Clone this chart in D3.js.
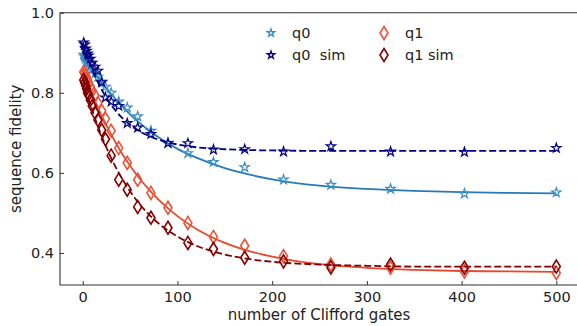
<!DOCTYPE html>
<html lang="en">
<head>
<meta charset="UTF-8">
<title>Sequence fidelity vs Clifford gates</title>
<script src="https://d3js.org/d3.v7.min.js"></script>
<style>
    body { margin: 0; background: #fff; }
    text { font-family: "DejaVu Sans", sans-serif; fill: #222; }
    .tick text { font-size: 14.5px; }
    .tick line { stroke: #333; stroke-width: 1; }
    .spine { stroke: #333; stroke-width: 1.1; fill: none; }
</style>
</head>
<body>
<div id="chart"></div>
<script>
    // number of Clifford gates (shared by all four data series)
    const gates = [1, 2, 3, 4, 5, 6, 8, 10, 13, 16, 20, 24, 30, 38, 47, 58, 72, 90, 111, 138, 171, 212, 262, 325, 403, 500];

    const q0 = [0.895, 0.890, 0.885, 0.880, 0.876, 0.873, 0.865, 0.858, 0.848, 0.840, 0.828, 0.815, 0.800, 0.778,
                0.763, 0.741, 0.705, 0.675, 0.649, 0.627, 0.614, 0.583, 0.570, 0.560, 0.548, 0.551];
    const q0Sim = [0.925, 0.920, 0.910, 0.905, 0.898, 0.893, 0.885, 0.875, 0.865, 0.855, 0.826, 0.788, 0.778, 0.767,
                0.724, 0.713, 0.697, 0.674, 0.674, 0.658, 0.659, 0.653, 0.666, 0.653, 0.652, 0.662];
    const q1 = [0.852, 0.848, 0.843, 0.838, 0.832, 0.826, 0.815, 0.805, 0.793, 0.775, 0.755, 0.735, 0.705, 0.662,
                0.625, 0.583, 0.550, 0.513, 0.475, 0.440, 0.418, 0.392, 0.371, 0.363, 0.354, 0.350];
    const q1Sim = [0.832, 0.825, 0.818, 0.810, 0.800, 0.795, 0.782, 0.767, 0.750, 0.732, 0.707, 0.684, 0.643, 0.583,
                0.558, 0.515, 0.488, 0.463, 0.425, 0.410, 0.388, 0.379, 0.364, 0.371, 0.363, 0.366];

    // fitted curves at these gate counts
    const fitGates = [0, 5, 10, 20, 30, 40, 50, 60, 70, 80, 100, 120, 150, 175, 200, 250, 300, 350, 400, 450, 500];
    const q0Fit = [0.898, 0.879, 0.860, 0.827, 0.797, 0.770, 0.746, 0.725, 0.706, 0.689, 0.660, 0.638, 0.612,
                0.596, 0.584, 0.568, 0.560, 0.555, 0.552, 0.550, 0.549];
    const q0SimFit = [0.925, 0.889, 0.858, 0.808, 0.770, 0.741, 0.720, 0.704, 0.692, 0.683, 0.671, 0.664, 0.659,
                0.657, 0.656, 0.655, 0.655, 0.655, 0.655, 0.655, 0.655];
    const q1Fit = [0.858, 0.826, 0.797, 0.743, 0.696, 0.654, 0.618, 0.586, 0.558, 0.533, 0.492, 0.460, 0.425,
                0.405, 0.391, 0.372, 0.363, 0.358, 0.355, 0.354, 0.353];
    const q1SimFit = [0.836, 0.795, 0.757, 0.692, 0.637, 0.592, 0.554, 0.522, 0.496, 0.474, 0.441, 0.418, 0.396,
                0.385, 0.378, 0.371, 0.368, 0.366, 0.366, 0.366, 0.366];

    const xTicks = [0, 100, 200, 300, 400, 500];
    const yTicks = [0.4, 0.6, 0.8, 1.0];

    const series = [
        { name: "q0",      y: q0,    fit: q0Fit,    marker: "star",    color: "#3a8dc5", line: "#2a7aba", dash: null },
        { name: "q0  sim", y: q0Sim, fit: q0SimFit, marker: "star",    color: "#000080", line: "#000080", dash: "7,3" },
        { name: "q1",      y: q1,    fit: q1Fit,    marker: "diamond", color: "#ec5236", line: "#e5492f", dash: null },
        { name: "q1 sim",  y: q1Sim, fit: q1SimFit, marker: "diamond", color: "#840000", line: "#840000", dash: "7,3" }
    ];

    const width = 577, height = 326;
    const margin = { top: 12.7, right: -3, bottom: 41, left: 60 };

    const svg = d3.select("#chart").append("svg")
        .attr("width", width)
        .attr("height", height);

    const x = d3.scaleLinear()
        .domain([-24, 525])
        .range([margin.left, width - margin.right]);

    const y = d3.scaleLinear()
        .domain([0.32, 1.0])
        .range([height - margin.bottom, margin.top]);

    // axes with inward ticks
    svg.append("g")
        .attr("transform", `translate(0,${height - margin.bottom})`)
        .call(d3.axisBottom(x).tickValues(xTicks).tickSize(-4).tickPadding(7))
        .call(g => g.select(".domain").remove());

    svg.append("g")
        .attr("transform", `translate(${margin.left},0)`)
        .call(d3.axisLeft(y).tickValues(yTicks).tickFormat(d3.format(".1f")).tickSize(-4).tickPadding(6))
        .call(g => g.select(".domain").remove());

    // spines: left, bottom, top
    const x0 = margin.left, x1 = width - margin.right, yb = height - margin.bottom, yt = margin.top;
    svg.append("path").attr("class", "spine")
        .attr("d", `M${x1},${yt}H${x0}V${yb}H${x1}`);

    // axis labels
    svg.append("text")
        .attr("x", 319).attr("y", 320)
        .attr("text-anchor", "middle")
        .style("font-size", "15px")
        .text("number of Clifford gates");

    svg.append("text")
        .attr("transform", `translate(21,${(yt + yb) / 2}) rotate(-90)`)
        .attr("text-anchor", "middle")
        .style("font-size", "15px")
        .text("sequence fidelity");

    const line = d3.line()
        .x(d => x(d[0]))
        .y(d => y(d[1]))
        .curve(d3.curveMonotoneX);

    const starPath = d3.symbol().type(d3.symbolStar).size(27)();
    const diamondPath = "M0,-6.5L4,0L0,6.5L-4,0Z";

    function drawMarkers(g, pts, s) {
        g.selectAll("path.m")
            .data(pts)
            .enter().append("path")
            .attr("class", "m")
            .attr("transform", d => `translate(${x(d[0])},${y(d[1])})`)
            .attr("d", s.marker === "star" ? starPath : diamondPath)
            .attr("fill", "none")
            .attr("stroke", s.color)
            .attr("stroke-width", s.marker === "star" ? 1.2 : 1.6)
            .attr("stroke-linejoin", "miter");
    }

    series.forEach(s => {
        const g = svg.append("g");
        g.append("path")
            .datum(fitGates.map((v, i) => [v, s.fit[i]]))
            .attr("d", line)
            .attr("fill", "none")
            .attr("stroke", s.line)
            .attr("stroke-width", 1.8)
            .attr("stroke-dasharray", s.dash);
        drawMarkers(g, gates.map((v, i) => [v, s.y[i]]), s);
    });

    // legend, two columns, no frame
    const legendPos = [[271, 33], [271, 55], [384, 33], [384, 55]];
    series.forEach((s, i) => {
        const [lx, ly] = legendPos[i];
        svg.append("path")
            .attr("transform", `translate(${lx},${ly})`)
            .attr("d", s.marker === "star" ? d3.symbol().type(d3.symbolStar).size(18)() : diamondPath)
            .attr("fill", "none")
            .attr("stroke", s.color)
            .attr("stroke-width", s.marker === "star" ? 1.3 : 1.6);
        svg.append("text")
            .attr("x", lx + 21).attr("y", ly + 5)
            .style("font-size", "14.5px")
            .style("white-space", "pre")
            .text(s.name);
    });
</script>
</body>
</html>
